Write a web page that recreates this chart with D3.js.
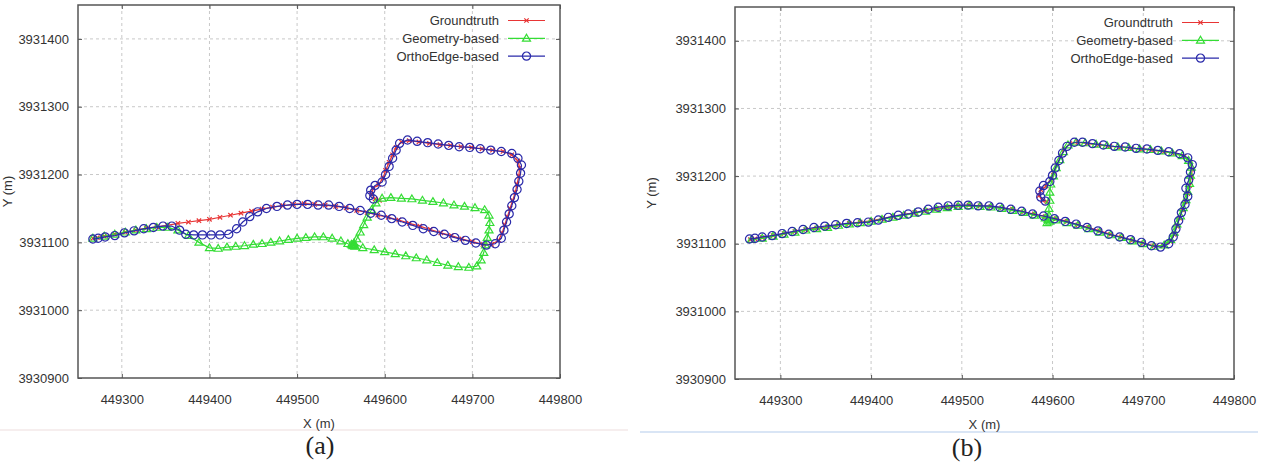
<!DOCTYPE html>
<html>
<head>
<meta charset="utf-8">
<script src="https://cdn.jsdelivr.net/npm/d3@7"></script>
<style>
  body { margin: 0; background: #fff; }
  .tick text { font-family: "Liberation Sans", Arial, sans-serif; font-size: 13px; fill: #333; }
  .lbl { font-family: "Liberation Sans", Arial, sans-serif; font-size: 13px; fill: #333; }
  .cap { font-family: "Liberation Serif", "DejaVu Serif", serif; font-size: 26px; fill: #222; }
</style>
</head>
<body>
<div id="chart"></div>
<script>
// tick values
var xTicks = [449300, 449400, 449500, 449600, 449700, 449800];
var yTicks = [3930900, 3931000, 3931100, 3931200, 3931300, 3931400];
var seriesNames = ["Groundtruth", "Geometry-based", "OrthoEdge-based"];

// groundtruth trajectory (same in both panels)
var groundtruth = [
  [449267,3931106],[449272,3931107],[449280,3931109],[449292,3931112],[449304,3931115],[449316,3931118],
  [449328,3931121],[449340,3931123],[449352,3931125],[449364,3931128],[449376,3931130],[449388,3931132],
  [449400,3931134],[449412,3931137],[449424,3931140],[449436,3931143],[449448,3931146],[449460,3931149],
  [449472,3931152],[449484,3931154],[449496,3931156],[449508,3931157],[449520,3931156],[449532,3931155],
  [449544,3931153],[449556,3931151],[449568,3931147],[449580,3931144],[449592,3931140],[449604,3931137],
  [449616,3931133],[449628,3931128],[449640,3931124],[449652,3931119],[449664,3931114],[449676,3931110],
  [449688,3931105],[449700,3931101],[449712,3931097],[449722,3931097],[449730,3931103],[449734,3931114],
  [449737,3931126],[449740,3931138],[449743,3931150],[449746,3931162],[449749,3931174],[449751,3931186],
  [449753,3931198],[449754,3931210],[449752,3931220],[449745,3931229],[449735,3931234],[449723,3931236],
  [449711,3931238],[449699,3931240],[449687,3931241],[449675,3931243],[449663,3931244],[449651,3931246],
  [449639,3931248],[449628,3931250],[449619,3931248],[449613,3931240],[449609,3931229],[449605,3931218],
  [449601,3931206],[449598,3931195],[449593,3931185],[449587,3931180],[449585,3931171],[449589,3931164],
  [449594,3931162]
];

// panel (a)
var geometryA = [
  [449267,3931106],[449280,3931109],[449292,3931112],[449304,3931115],[449316,3931118],[449328,3931120],
  [449340,3931122],[449352,3931122],[449364,3931118],[449376,3931110],[449388,3931100],[449400,3931092],
  [449410,3931091],[449420,3931093],[449430,3931094],[449440,3931095],[449450,3931097],[449460,3931098],
  [449470,3931100],[449480,3931102],[449490,3931104],[449500,3931106],[449510,3931107],[449520,3931108],
  [449530,3931108],[449540,3931106],[449550,3931102],[449558,3931098],[449564,3931096],[449566,3931094],
  [449562,3931097],[449565,3931099],[449575,3931092],[449588,3931089],[449600,3931086],[449612,3931083],
  [449624,3931080],[449636,3931077],[449648,3931074],[449660,3931070],[449672,3931066],[449684,3931064],
  [449696,3931063],[449705,3931065],[449710,3931074],[449713,3931085],[449715,3931096],[449717,3931107],
  [449719,3931118],[449720,3931129],[449719,3931140],[449714,3931148],[449703,3931151],[449691,3931153],
  [449679,3931155],[449667,3931158],[449655,3931160],[449643,3931162],[449631,3931164],[449619,3931165],
  [449607,3931166],[449597,3931165],[449590,3931158],[449585,3931148],[449580,3931137],[449576,3931126],
  [449572,3931115],[449568,3931105],[449565,3931097],[449564,3931095],[449563,3931096]
];
var orthoEdgeA = [
  [449267,3931105],[449273,3931106],[449281,3931108],[449292,3931110],[449303,3931114],[449314,3931117],
  [449325,3931120],[449336,3931122],[449347,3931124],[449357,3931124],[449366,3931118],[449373,3931112],
  [449382,3931111],[449392,3931111],[449402,3931111],[449412,3931111],[449422,3931112],[449431,3931120],
  [449438,3931130],[449446,3931138],[449455,3931145],[449465,3931150],[449477,3931153],[449489,3931155],
  [449500,3931156],[449512,3931156],[449524,3931155],[449536,3931155],[449548,3931153],[449560,3931150],
  [449572,3931147],[449584,3931143],[449596,3931140],[449608,3931135],[449620,3931130],[449632,3931125],
  [449644,3931120],[449656,3931116],[449668,3931112],[449680,3931107],[449692,3931103],[449704,3931099],
  [449716,3931096],[449726,3931098],[449733,3931106],[449736,3931118],[449739,3931130],[449742,3931142],
  [449745,3931154],[449748,3931166],[449751,3931178],[449753,3931190],[449755,3931202],[449756,3931214],
  [449752,3931224],[449745,3931231],[449733,3931234],[449721,3931236],[449709,3931238],[449697,3931240],
  [449685,3931241],[449673,3931243],[449661,3931245],[449649,3931247],[449637,3931249],[449626,3931251],
  [449617,3931246],[449613,3931236],[449609,3931224],[449605,3931212],[449601,3931200],[449597,3931189],
  [449589,3931184],[449584,3931177],[449583,3931169],[449587,3931164]
];

// panel (b)
var geometryB = [
  [449268,3931106],[449280,3931108],[449292,3931111],[449304,3931114],[449316,3931117],[449328,3931120],
  [449340,3931122],[449352,3931124],[449364,3931127],[449376,3931129],[449388,3931131],[449400,3931133],
  [449412,3931136],[449424,3931139],[449436,3931142],[449448,3931145],[449460,3931148],[449472,3931151],
  [449484,3931153],[449496,3931155],[449508,3931156],[449520,3931155],[449532,3931154],[449544,3931152],
  [449556,3931149],[449568,3931146],[449580,3931142],[449592,3931138],[449604,3931135],[449616,3931131],
  [449628,3931127],[449640,3931122],[449652,3931117],[449664,3931113],[449676,3931109],[449688,3931104],
  [449700,3931100],[449712,3931096],[449723,3931098],[449730,3931106],[449734,3931117],[449737,3931129],
  [449741,3931141],[449744,3931153],[449747,3931165],[449749,3931177],[449751,3931189],[449752,3931201],
  [449753,3931213],[449750,3931223],[449743,3931230],[449732,3931234],[449720,3931237],[449708,3931239],
  [449696,3931240],[449684,3931242],[449672,3931243],[449660,3931245],[449648,3931247],[449636,3931249],
  [449626,3931250],[449617,3931246],[449612,3931236],[449608,3931224],[449604,3931212],[449601,3931200],
  [449598,3931188],[449597,3931176],[449597,3931164],[449596,3931152],[449596,3931142],[449595,3931136],
  [449597,3931133],[449594,3931131],[449596,3931135]
];
var orthoEdgeB = [
  [449266,3931107],[449272,3931108],[449280,3931110],[449291,3931112],[449302,3931115],[449313,3931118],
  [449325,3931121],[449337,3931124],[449349,3931126],[449361,3931128],[449373,3931130],[449385,3931131],
  [449397,3931132],[449408,3931135],[449419,3931139],[449430,3931142],[449441,3931144],[449452,3931147],
  [449463,3931151],[449474,3931154],[449485,3931156],[449496,3931157],[449507,3931157],[449518,3931156],
  [449530,3931156],[449542,3931154],[449554,3931151],[449566,3931148],[449578,3931144],[449590,3931141],
  [449602,3931137],[449614,3931133],[449626,3931129],[449638,3931124],[449650,3931119],[449662,3931114],
  [449674,3931110],[449686,3931106],[449698,3931102],[449709,3931097],[449719,3931095],[449728,3931100],
  [449733,3931110],[449736,3931122],[449739,3931134],[449742,3931146],[449746,3931158],[449749,3931170],
  [449747,3931182],[449750,3931194],[449752,3931206],[449754,3931217],[449749,3931227],[449740,3931233],
  [449728,3931236],[449716,3931238],[449704,3931240],[449692,3931241],[449680,3931243],[449668,3931244],
  [449656,3931246],[449644,3931248],[449633,3931250],[449624,3931250],[449616,3931244],[449611,3931234],
  [449607,3931223],[449603,3931212],[449600,3931201],[449597,3931192],[449590,3931186],[449586,3931178],
  [449587,3931169],[449592,3931163]
];

var colors = ["#e83535", "#35dd35", "#2a2aaa"];

var svg = d3.select("#chart").append("svg")
  .attr("width", 1262)
  .attr("height", 462);

// faint separator lines under the panels
svg.append("line").attr("x1", 0).attr("x2", 628).attr("y1", 430).attr("y2", 430)
  .attr("stroke", "#f6eeee").attr("stroke-width", 2);
svg.append("line").attr("x1", 640).attr("x2", 1258).attr("y1", 432).attr("y2", 432)
  .attr("stroke", "#cddcf2").attr("stroke-width", 1.5);

function marker(sel, type, color) {
  if (type == 0) {
    sel.append("path").attr("d", "M-2.2,-2.2L2.2,2.2M-2.2,2.2L2.2,-2.2")
      .attr("stroke", color).attr("stroke-width", 1.2).attr("fill", "none");
  } else if (type == 1) {
    sel.append("path").attr("d", "M0,-4L4,2.8L-4,2.8Z")
      .attr("stroke", color).attr("stroke-width", 1.2).attr("fill", "none");
  } else {
    sel.append("circle").attr("r", 4.1)
      .attr("stroke", color).attr("stroke-width", 1.2).attr("fill", "none");
  }
}

function drawPanel(box, series, caption) {
  var x = d3.scaleLinear().domain([449250, 449800]).range([box.left, box.right]);
  var y = d3.scaleLinear().domain([3930900, 3931450]).range([box.bottom, box.top]);
  var g = svg.append("g");

  // grid
  g.selectAll(".gx").data(xTicks.slice(0, -1)).enter().append("line")
    .attr("x1", function(d){ return x(d); }).attr("x2", function(d){ return x(d); })
    .attr("y1", box.top).attr("y2", box.bottom)
    .attr("stroke", "#c8c8c8").attr("stroke-dasharray", "3,3");
  g.selectAll(".gy").data(yTicks.slice(1)).enter().append("line")
    .attr("x1", box.left).attr("x2", box.right)
    .attr("y1", function(d){ return y(d); }).attr("y2", function(d){ return y(d); })
    .attr("stroke", "#c8c8c8").attr("stroke-dasharray", "3,3");

  // axes, ticks pointing inwards
  var fmt = d3.format("d");
  g.append("g").attr("transform", "translate(0," + box.bottom + ")")
    .call(d3.axisBottom(x).tickValues(xTicks).tickFormat(fmt).tickSizeInner(-4).tickSizeOuter(0).tickPadding(17));
  g.append("g").attr("transform", "translate(" + box.left + ",0)")
    .call(d3.axisLeft(y).tickValues(yTicks).tickFormat(fmt).tickSizeInner(-4).tickSizeOuter(0).tickPadding(9));
  g.append("g").attr("transform", "translate(0," + box.top + ")")
    .call(d3.axisTop(x).tickValues(xTicks).tickFormat("").tickSizeInner(-4).tickSizeOuter(0));
  g.append("g").attr("transform", "translate(" + box.right + ",0)")
    .call(d3.axisRight(y).tickValues(yTicks).tickFormat("").tickSizeInner(-4).tickSizeOuter(0));
  g.selectAll(".domain").remove();
  g.selectAll(".tick line").attr("stroke", "#555");

  // trajectories
  var line = d3.line().x(function(d){ return x(d[0]); }).y(function(d){ return y(d[1]); });
  series.forEach(function(s, i) {
    g.append("path").datum(s).attr("d", line)
      .attr("fill", "none").attr("stroke", colors[i]).attr("stroke-width", 1.2);
    g.selectAll(".m" + i).data(s).enter().append("g")
      .attr("transform", function(d){ return "translate(" + x(d[0]) + "," + y(d[1]) + ")"; })
      .each(function(){ marker(d3.select(this), i, colors[i]); });
  });

  // frame
  g.append("rect").attr("x", box.left).attr("y", box.top)
    .attr("width", box.right - box.left).attr("height", box.bottom - box.top)
    .attr("fill", "none").attr("stroke", "#555").attr("stroke-width", 1.5);

  // legend
  var leg = g.append("g").attr("transform", "translate(" + (box.right - 61) + "," + (box.top + 15.5) + ")");
  seriesNames.forEach(function(name, i) {
    var row = leg.append("g").attr("transform", "translate(0," + (i * 17.8) + ")");
    row.append("text").attr("class", "lbl").attr("text-anchor", "end").attr("dy", "0.35em").text(name);
    row.append("line").attr("x1", 9).attr("x2", 46).attr("stroke", colors[i]).attr("stroke-width", 1.2);
    var m = row.append("g").attr("transform", "translate(27.5,0)");
    marker(m, i, colors[i]);
  });

  // axis titles
  var cx = (box.left + box.right) / 2;
  g.append("text").attr("class", "lbl").attr("x", cx).attr("y", box.bottom + 50)
    .attr("text-anchor", "middle").text("X (m)");
  g.append("text").attr("class", "lbl")
    .attr("transform", "translate(" + box.yLabelX + "," + ((box.top + box.bottom) / 2) + ") rotate(-90)")
    .attr("text-anchor", "middle").text("Y (m)");
  g.append("text").attr("class", "cap").attr("x", box.capX).attr("y", box.capY)
    .attr("text-anchor", "middle").text(caption);
}

drawPanel({left: 78, top: 5, right: 560, bottom: 378, yLabelX: 12, capX: 320, capY: 454},
  [groundtruth, geometryA, orthoEdgeA], "(a)");
drawPanel({left: 735, top: 7, right: 1234, bottom: 379, yLabelX: 656, capX: 967, capY: 456},
  [groundtruth, geometryB, orthoEdgeB], "(b)");
</script>
</body>
</html>
